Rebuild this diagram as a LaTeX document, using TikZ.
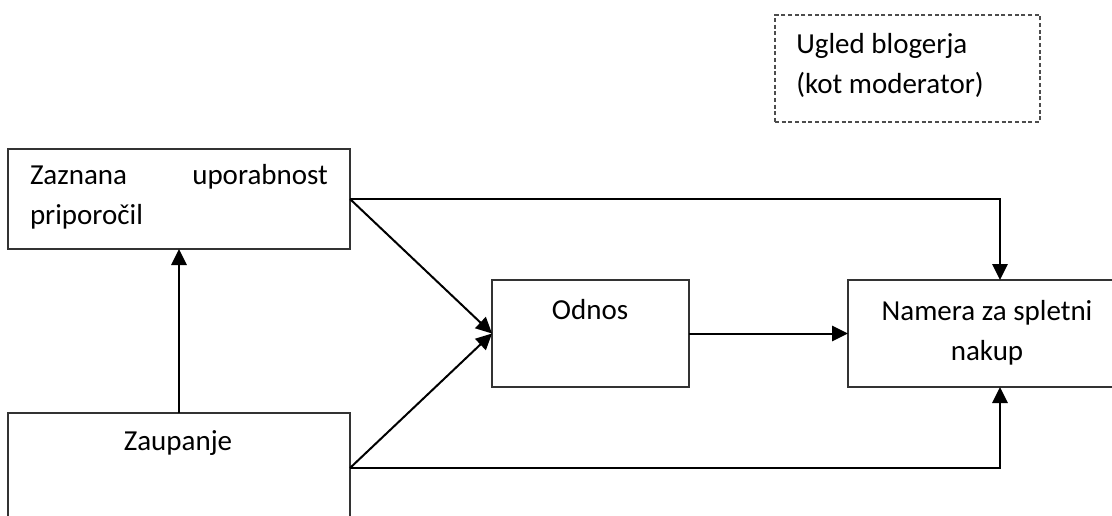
\documentclass[tikz,border=0pt]{standalone}
\usepackage{fontspec}
\setmainfont{Carlito}
\usetikzlibrary{arrows.meta,fit}
\begin{document}
\begin{tikzpicture}[x=0.75pt,y=-0.75pt,
  box/.style={draw=black!80, line width=0.8pt, inner sep=0pt, outer sep=0pt},
  modbox/.style={box, dashed, dash pattern=on 3pt off 2pt, draw=black!70},
  txt/.style={inner sep=0pt, font=\fontsize{21.75}{30}\selectfont},
  arr/.style={line width=1.5pt, -{Triangle[length=12pt,width=11.5pt]}}]
\useasboundingbox (0,0) rectangle (1112,515);

% boxes
\node[box, fit={(8,149) (350,249)}] (A) {};
\node[box, fit={(8,413) (350,523)}] (Z) {};
\node[box, fit={(492,280) (689,387)}] (O) {};
\node[box, fit={(848,280) (1152,387)}] (N) {};
\node[modbox, fit={(775,15) (1040,122)}] (M) {};

% labels
\node[txt, text width=223.5pt, align=left] (At) at (179,197)
  {Zaznana\hfill uporabnost\\priporočil};
\node[txt] (Zt) at (178,443) {Zaupanje};
\node[txt] (Ot) at (590,310) {Odnos};
\node[txt, align=center] (Nt) at (987,333) {Namera za spletni\\nakup};
\node[txt, align=left, anchor=west] (Mt) at (796,65) {Ugled blogerja\\(kot moderator)};

% connectors
\draw[arr] (Z.north) -- (A.south);
\draw[arr] (A.east) -- (O.west);
\draw[arr] (Z.east) -- (O.west);
\draw[arr] (O.east) -- (N.west);
\draw[arr] (A.east) -| (N.north);
\draw[arr] (Z.east) -| (N.south);
\end{tikzpicture}
\end{document}
